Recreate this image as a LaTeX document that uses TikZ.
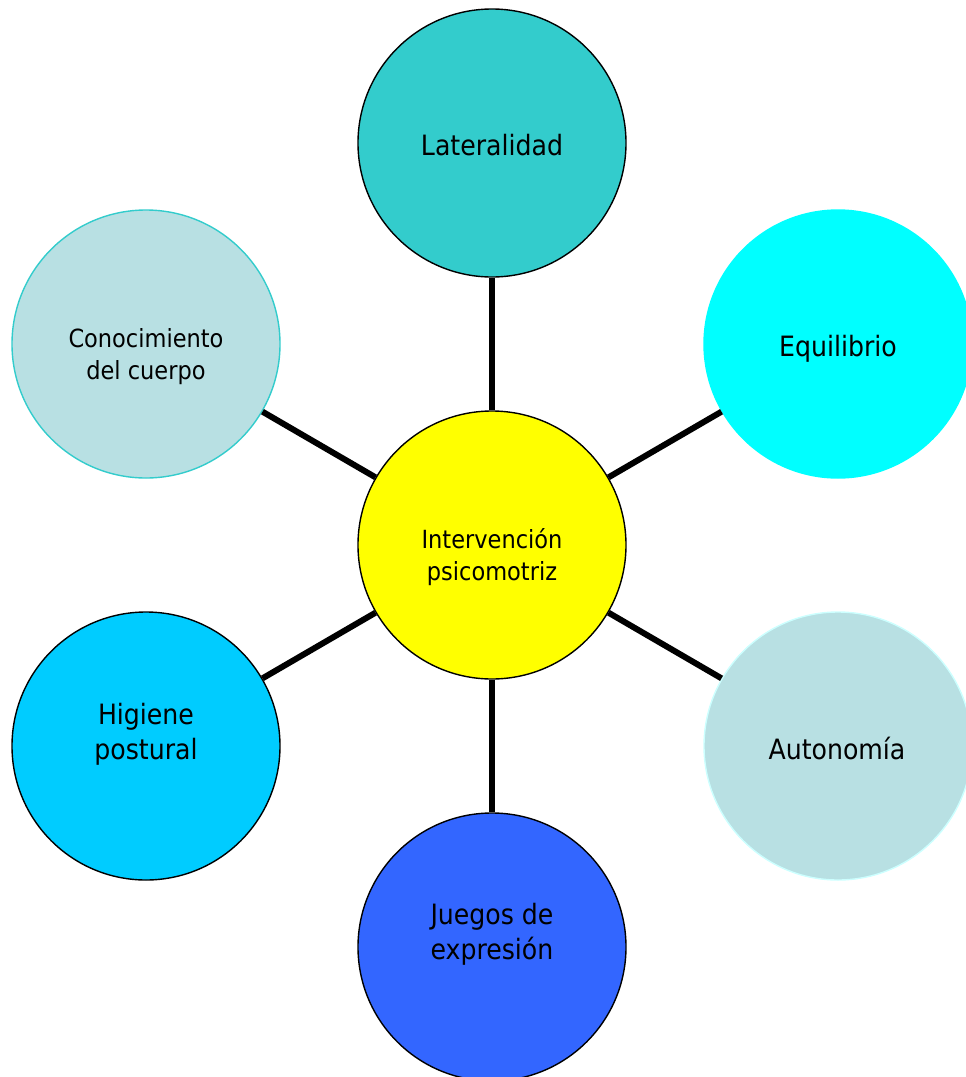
\documentclass[tikz,border=0pt]{standalone}
\usepackage{fontspec}
\setmainfont{DejaVu Sans Condensed}
\definecolor{cTeal}{HTML}{33CCCC}
\definecolor{cCyan}{HTML}{00FFFF}
\definecolor{cPale}{HTML}{B8E0E3}
\definecolor{cPaleEdge}{HTML}{CCFFFF}
\definecolor{cSky}{HTML}{00CCFF}
\definecolor{cBlue}{HTML}{3366FF}
\definecolor{cYellow}{HTML}{FFFF00}
\begin{document}
\begin{tikzpicture}[x=1pt,y=-1pt,
  bub/.style={circle, minimum size=268pt, inner sep=0pt, line width=1.4pt, draw=black},
  bigtxt/.style={align=center, inner sep=0pt, font=\fontsize{28}{35}\selectfont},
  smalltxt/.style={align=center, inner sep=0pt, font=\fontsize{25}{32}\selectfont},
  link/.style={line width=6pt, draw=black}]
\useasboundingbox (0,0) rectangle (966,1077);
\clip (0,0) rectangle (966,1077);
% circles
\node[bub, fill=cYellow] (c) at (492,545) {};
\node[bub, fill=cTeal] (lat) at (492,143) {};
\node[bub, fill=cCyan, draw=cCyan] (equ) at (838,344) {};
\node[bub, fill=cPale, draw=cPaleEdge] (aut) at (838,746) {};
\node[bub, fill=cBlue] (jue) at (492,947) {};
\node[bub, fill=cSky] (hig) at (146,746) {};
\node[bub, fill=cPale, draw=cTeal] (con) at (146,344) {};
% connectors
\draw[link] (c) -- (lat);
\draw[link] (c) -- (equ);
\draw[link] (c) -- (aut);
\draw[link] (c) -- (jue);
\draw[link] (c) -- (hig);
\draw[link] (c) -- (con);
% texts
\node[smalltxt] (cT) at (492,557) {Intervención\\psicomotriz};
\node[bigtxt] (latT) at (492,145.5) {Lateralidad};
\node[bigtxt] (equT) at (838,349) {Equilibrio};
\node[bigtxt] (autT) at (837,748) {Autonomía};
\node[bigtxt] (jueT) at (492,934) {Juegos de\\expresión};
\node[bigtxt] (higT) at (146,734) {Higiene\\postural};
\node[smalltxt] (conT) at (146,357) {Conocimiento\\del cuerpo};
\end{tikzpicture}
\end{document}
